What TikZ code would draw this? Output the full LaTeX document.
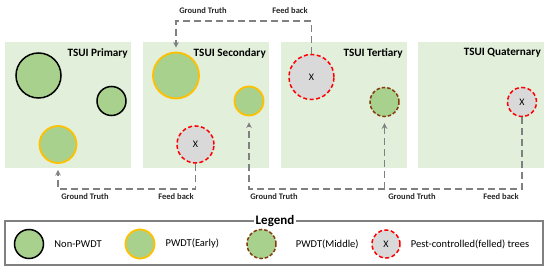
\documentclass[tikz,border=0pt]{standalone}
\usepackage{fontspec}
\setmainfont{Carlito}
\usetikzlibrary{arrows, positioning}
\definecolor{panelgreen}{HTML}{E2EFDA}
\definecolor{treegreen}{HTML}{A9D18E}
\definecolor{earlyorange}{HTML}{FFC000}
\definecolor{middlebrown}{HTML}{843C0C}
\definecolor{felledred}{HTML}{FF0000}
\definecolor{felledgray}{HTML}{D9D9D9}
\definecolor{linegray}{HTML}{808080}
\tikzstyle{panel} = [rectangle, minimum width=126pt, minimum height=126pt, inner sep=0pt, fill=panelgreen]
\tikzstyle{title} = [font=\fontsize{11.2}{12}\selectfont\bfseries, anchor=east, inner sep=0pt]
\tikzstyle{nonpwdt} = [circle, inner sep=0pt, fill=treegreen, draw=black, line width=1.5pt]
\tikzstyle{early} = [circle, inner sep=0pt, fill=treegreen, draw=earlyorange, line width=1.8pt]
\tikzstyle{middle} = [circle, inner sep=0pt, fill=treegreen, draw=middlebrown, line width=1.5pt, dash pattern=on 3.5pt off 2pt]
\tikzstyle{felled} = [circle, inner sep=0pt, fill=felledgray, draw=felledred, line width=1.5pt, dash pattern=on 4pt off 2.5pt, font=\fontsize{10}{12}\selectfont]
\tikzstyle{flow} = [draw=linegray, line width=1.5pt, dash pattern=on 7pt off 4pt, ->, >=stealth]
\tikzstyle{flowlabel} = [font=\fontsize{8.5}{10}\selectfont\bfseries, text=black!85, inner sep=0pt]
\tikzstyle{legtext} = [font=\fontsize{10.5}{12}\selectfont, anchor=west, inner sep=0pt]

\begin{document}
\begin{tikzpicture}[x=1pt, y=-1pt]
            \useasboundingbox (0,0) rectangle (550,272);
            % Panels
            \node (primary) [panel] at (68,105) {};
            \node (secondary) [panel] at (206,105) {};
            \node (tertiary) [panel] at (344,105) {};
            \node (quaternary) [panel] at (481,105) {};
            \node (tprimary) [title] at (128,53) {TSUI Primary};
            \node (tsecondary) [title] at (266,53) {TSUI Secondary};
            \node (ttertiary) [title] at (403,53) {TSUI Tertiary};
            \node (tquaternary) [title] at (541,53) {TSUI Quaternary};

            % Trees
            \node (pri1) [nonpwdt, minimum size=45pt] at (38.5,75.5) {};
            \node (pri2) [nonpwdt, minimum size=29pt] at (111.5,101) {};
            \node (pri3) [early, minimum size=37pt] at (58,144.5) {};
            \node (sec1) [early, minimum size=46pt] at (176,75.5) {};
            \node (sec2) [early, minimum size=29pt] at (249,101) {};
            \node (sec3) [felled, minimum size=37pt] at (195.5,144.5) {X};
            \node (ter1) [felled, minimum size=45pt] at (311.5,77) {X};
            \node (ter2) [middle, minimum size=29pt] at (384.5,102) {};
            \node (qua1) [felled, minimum size=29pt] at (522,102) {X};

            % Edges
            \coordinate (topturn) at (240,21);
            \coordinate (leftturn) at (120,189);
            \coordinate (rightturn) at (300,189);
            \coordinate (branch) at (384.5,189);
            \draw [flow, shorten >=4pt] (ter1.north) |- (topturn) -| (sec1.north);
            \draw [flow, shorten >=6pt] (sec3.south) |- (leftturn) -| (pri3.south);
            \draw [flow, shorten >=6pt] (qua1.south) |- (rightturn) -| (sec2.south);
            \draw [flow, shorten >=6pt] (branch) -- (ter2.south);

            \node (gt1) [flowlabel] at (203,11) {Ground Truth};
            \node (fb1) [flowlabel] at (290,11) {Feed back};
            \node (gt2) [flowlabel] at (85,197) {Ground Truth};
            \node (fb2) [flowlabel] at (176,197) {Feed back};
            \node (gt3) [flowlabel] at (274,197) {Ground Truth};
            \node (gt4) [flowlabel] at (412,197) {Ground Truth};
            \node (fb3) [flowlabel] at (501,197) {Feed back};

            % Legend
            \node (legend) [rectangle, draw=linegray, line width=1.8pt, minimum width=538pt, minimum height=44pt] at (274,243) {};
            \node (legtitle) [fill=white, inner sep=2pt, font=\fontsize{13}{14}\selectfont\bfseries] at (275,221) {Legend};
            \node (legA) [nonpwdt, minimum size=29pt] at (29,244) {};
            \node (legB) [early, minimum size=29pt] at (140,244) {};
            \node (legC) [middle, minimum size=29pt] at (261.5,244) {};
            \node (legD) [felled, minimum size=28pt] at (386,244) {X};
            \node (textA) [legtext, right=10pt of legA] {Non-PWDT};
            \node (textB) [legtext, right=10pt of legB] {PWDT(Early)};
            \node (textC) [legtext, right=19pt of legC] {PWDT(Middle)};
            \node (textD) [legtext, right=10pt of legD] {Pest-controlled(felled) trees};

        \end{tikzpicture}
\end{document}
